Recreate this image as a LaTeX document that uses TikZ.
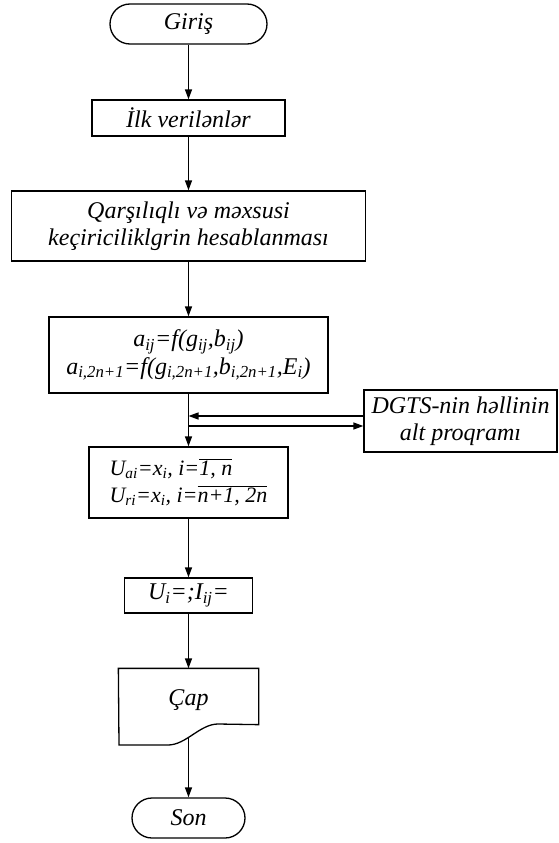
\documentclass[tikz,border=0pt]{standalone}
\usepackage{fontspec}
\setmainfont{Liberation Serif}
\usetikzlibrary{arrows.meta}

\tikzset{
    blok/.style={draw, line width=1.3pt, inner sep=2pt, align=center,
        font=\itshape\fontsize{24}{27.5}\selectfont},
    term/.style={blok, rounded corners=20pt, minimum height=40pt},
    arr/.style={line width=1.3pt, -{Triangle[length=10pt,width=7pt]}}
}

\begin{document}
\begin{tikzpicture}[x=1pt, y=1pt]
    \useasboundingbox (0,0) rectangle (558,-843);

    \node[term, minimum width=157pt](giris) at(188.5,-24){Giriş};
    \node[blok, minimum width=193pt, minimum height=36pt](ilk) at(188.5,-118){İlk verilənlər};
    \node[blok, minimum width=354pt, minimum height=70pt](qars) at(188.5,-226)
        {Qarşılıqlı və məxsusi\\keçiriciliklgrin hesablanması};
    \node[blok, minimum width=279pt, minimum height=76pt, inner sep=0pt](aij) at(188.5,-355)
        {a\textsubscript{ij}=f(g\textsubscript{ij},b\textsubscript{ij})\\
         a\textsubscript{i,2n+1}=f(g\textsubscript{i,2n+1},b\textsubscript{i,2n+1},E\textsubscript{i})};
    \node[blok, minimum width=193pt, minimum height=62pt, inner sep=0pt](dgts) at(460.5,-421)
        {DGTS-nin həllinin\\alt proqramı};
    \node[blok, align=left, minimum width=199pt, minimum height=71pt, inner sep=0pt,
        font=\itshape\fontsize{22}{27}\selectfont](ux) at(188.5,-482.5)
        {U\textsubscript{ai}=x\textsubscript{i}, i=$\overline{\hbox{1, n}}$\\
         U\textsubscript{ri}=x\textsubscript{i}, i=$\overline{\hbox{n+1, 2n}}$};
    \node[blok, minimum width=128pt, minimum height=35pt](ui) at(188.5,-595.5)
        {U\textsubscript{i}=;I\textsubscript{ij}=};

    % cap (document)
    \node[blok, draw=none, minimum width=139pt, minimum height=55pt](cap) at(188.5,-696.5){};
    \draw[line width=1.3pt](cap.north west) -- (cap.north east) -- (cap.south east) -- (218,-724)
        .. controls (200,-724) and (186,-745) .. (168,-745) -- (119,-745) -- cycle;
    \node[blok, draw=none](captxt) at(188.5,-700){Çap};
    \coordinate(capout) at(188.5,-737);

    \node[term, minimum width=113pt](son) at(188.5,-818){Son};

    \draw[arr](giris) -- (ilk);
    \draw[arr](ilk) -- (qars);
    \draw[arr](qars) -- (aij);
    \draw[arr](aij) -- (ux);
    \coordinate(j1) at(188.5,-416);
    \coordinate(j2) at(188.5,-426);
    \draw[arr](dgts.west |- j1) -- (j1);
    \draw[arr](j2) -- (dgts.west |- j2);
    \draw[arr](ux) -- (ui);
    \draw[arr](ui) -- (cap.north);
    \draw[arr](capout) -- (son);
\end{tikzpicture}
\end{document}
